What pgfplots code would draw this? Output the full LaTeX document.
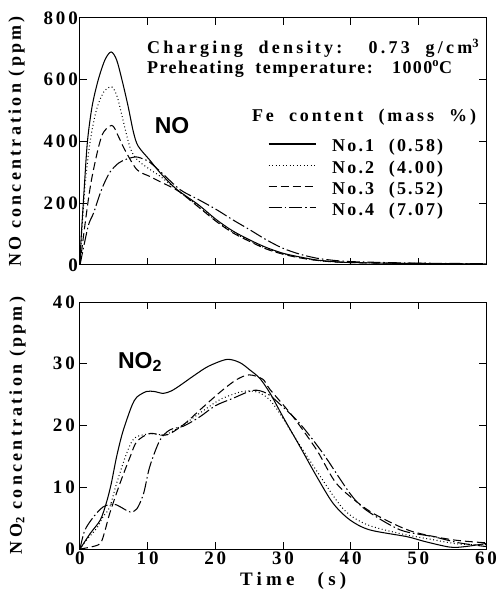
\documentclass[border=0pt]{standalone}
\usepackage{fontspec}
\setmainfont{Liberation Serif}
\newfontfamily\tickspaced{Liberation Serif}[LetterSpace=15]
\newfontfamily\labspaced{Liberation Serif}[LetterSpace=18]
\newfontfamily\timespaced{Liberation Serif}[LetterSpace=22]
\newfontfamily\chgspaced{Liberation Serif}[LetterSpace=18]
\newfontfamily\prespaced{Liberation Serif}[LetterSpace=8]
\newfontfamily\fespaced{Liberation Serif}[LetterSpace=16]
\newfontfamily\legspaced{Liberation Serif}[LetterSpace=12]
\newfontfamily\sans{Liberation Sans}
\usepackage{pgfplots}
\pgfplotsset{compat=1.18}

\newcommand\tickfont{\tickspaced\bfseries\fontsize{19}{19}\selectfont}
\newcommand\labfont{\labspaced\bfseries\fontsize{18}{18}\selectfont}
\newcommand\legfont{\legspaced\bfseries\fontsize{18}{21}\selectfont}
\newcommand\gasfont{\sans\bfseries\fontsize{23}{23}\selectfont}
% a line of text spread to a fixed width
\newcommand\spread[2]{\makebox[#1][s]{#2}}

\tikzset{note/.style={anchor=base west, inner sep=0pt}}

\pgfplotsset{
  panel/.style={
    scale only axis, width=406pt, height=247pt,
    xmin=0, xmax=60,
    axis line style={line width=1pt},
    tick align=inside, major tick length=7pt,
    tick style={line width=1pt, black},
    xtick={0,10,...,60},
    /pgf/number format/assume math mode=true,
    tick label style={font=\tickfont, inner sep=2pt},
    every axis plot/.append style={line width=1.05pt, black, smooth, tension=0.5},
  },
  s1/.style={solid},
  s2/.style={dash pattern=on 0.9pt off 2.6pt},
  s3/.style={dash pattern=on 8pt off 4pt},
  s4/.style={dash pattern=on 13pt off 3pt on 1.5pt off 3pt},
}

\begin{document}
\begin{tikzpicture}

% ---------- NO ----------
\begin{axis}[panel,
  at={(0pt,284pt)}, anchor=south west,
  ymin=0, ymax=800, ytick={0,200,...,800},
  xticklabels={},
  ylabel={NO concentration (ppm)},
  ylabel style={font=\labfont, at={(axis description cs:-0.156,0.5)}, anchor=center},
  legend cell align=left,
  legend image code/.code={\draw[#1] (0pt,0.35em) -- (47pt,0.35em);},
  legend style={draw=none, fill=none, inner sep=0pt, row sep=4.3pt, column sep=16pt,
    at={(axis description cs:0.463,0.511)}, anchor=north west,
    nodes={font=\legfont, inner sep=0pt, text height=13pt, text depth=4pt}},
]
\addplot[s1] coordinates {
(0,0) (0.15,80) (0.6,240) (1.1,400) (1.8,515) (2.7,600) (3.7,665) (4.6,690)
(5.4,665) (6.2,600) (7.1,515) (7.9,430) (8.6,385) (10.3,340) (12,295)
(14.3,245) (17.5,195) (20.2,146) (22.6,110) (25.1,81) (27.5,57) (30,38)
(32.5,26) (35,16) (37.5,11) (40,8) (45,6) (50,5) (55,4) (60,3)};
\addlegendentry{\spread{111pt}{No.1 (0.58)}}
\addplot[s2] coordinates {
(0,0) (0.3,120) (0.8,270) (1.5,400) (2.4,500) (3.5,560) (4.7,577) (5.5,545)
(6.1,493) (7.4,380) (8.5,340) (10.3,310) (12,285) (14.5,240) (17.5,190)
(20.2,142) (22.6,106) (25.1,78) (27.5,54) (30,36) (32.5,24) (35,15)
(37.5,10) (40,8) (45,6) (50,5) (55,4) (60,3)};
\addlegendentry{\spread{111pt}{No.2 (4.00)}}
\addplot[s3] coordinates {
(0,0) (0.7,125) (1.7,276) (3.2,417) (4.7,452) (5.6,420) (6.6,374) (8.4,309)
(10.3,287) (12,268) (14.5,240) (17.5,188) (20.2,140) (22.6,104) (25.1,76)
(27.5,52) (30,35) (32.5,23) (35,15) (37.5,10) (40,8) (45,6) (50,5) (55,4) (60,3)};
\addlegendentry{\spread{111pt}{No.3 (5.52)}}
\addplot[s4] coordinates {
(0,0) (1.2,125) (2.0,168) (3.2,245) (4.4,300) (5.7,330) (6.9,343) (8.3,350)
(9.5,342) (10.3,333) (12,300) (14.8,244) (17.5,212) (20.2,179) (22.6,146)
(25.1,114) (27.5,82) (30,54) (32.5,35) (35,22) (37.5,15) (40,11) (45,8)
(50,6) (55,5) (60,4)};
\addlegendentry{\spread{111pt}{No.4 (7.07)}}

\node[note, font=\chgspaced\bfseries\fontsize{18}{21}\selectfont] at (axis cs:9.9,685)
  {\spread{332pt}{Charging density: 0.73 g/cm\textsuperscript{3}}};
\node[note, font=\prespaced\bfseries\fontsize{18}{21}\selectfont] at (axis cs:9.9,621)
  {\spread{305pt}{Preheating temperature: 1000\textsuperscript{o}C}};
\node[note, font=\fespaced\bfseries\fontsize{18}{21}\selectfont] at (axis cs:25.4,466)
  {\spread{224pt}{Fe content (mass \%)}};
\node[font=\gasfont, anchor=center, inner sep=0pt] at (axis cs:13.6,450) {NO};
\end{axis}

% ---------- NO2 ----------
\begin{axis}[panel,
  at={(0pt,0pt)}, anchor=south west,
  ymin=0, ymax=40, ytick={0,10,...,40},
  yticklabel style={xshift=-3pt},
  xticklabel style={yshift=-1pt},
  xlabel={\spread{106pt}{Time (s)}},
  xlabel style={font=\timespaced\bfseries\fontsize{19}{19}\selectfont,
    at={(axis description cs:0.525,-0.13)}, anchor=center},
  ylabel={NO\textsubscript{2} concentration (ppm)},
  ylabel style={font=\labfont, at={(axis description cs:-0.154,0.5)}, anchor=center},
]
\addplot[s1] coordinates {
(0,0) (1.5,2.5) (3,4.7) (3.9,7.5) (4.6,10.5) (5.4,14.9) (6.2,18.5) (6.9,20.9)
(7.7,23.3) (8.4,24.6) (9.8,25.5) (11,25.5) (12.3,25.2) (13.5,25.6) (14.8,26.5)
(17,28.2) (19,29.6) (21.7,30.7) (23.6,30.2) (25.1,29.0) (26.6,27.6) (28.1,25.2)
(30,21.4) (32.5,16.6) (35,11.7) (37.4,7.4) (39.9,4.7) (42.8,3.1) (48.3,2.0)
(51,1.2) (54.7,0.3) (57,0.4) (60,0.9)};
\addplot[s2] coordinates {
(0,0) (1,1.5) (2.5,3.4) (3.4,5.2) (4.4,6.8) (5.4,10.6) (6.9,15.5) (8.1,18.0)
(10.6,18.7) (12.6,18.5) (15.5,20.3) (17.7,22.0) (20.7,24.2) (23.6,25.4)
(25.1,25.6) (26.5,25.3) (28,24.2) (29.5,22.0) (31.5,18.5) (35,12.6) (38.9,6.5)
(42.3,4.0) (47.3,2.5) (52.2,1.5) (56,0.8) (60,0.7)};
\addplot[s3] coordinates {
(0,0) (1.5,0.3) (3,0.9) (3.7,3.0) (4.4,5.8) (5.9,10.6) (7.4,14.9) (8.4,17.4)
(10.3,18.7) (12.3,18.4) (13.5,18.8) (15.5,20.3) (17.7,22.5) (20.7,25.4)
(23.1,27.4) (25,28.2) (27,27.5) (28.1,25.8) (31.5,21.4) (35,16) (37.9,10.6)
(41.9,6.8) (45,4.8) (49.2,2.8) (55,1.5) (60,1.0)};
\addplot[s4] coordinates {
(0,0) (0.7,3.0) (2,5.2) (3.4,6.8) (4.9,7.3) (6,6.8) (7.4,6.0) (8.4,6.5)
(9.4,9.0) (10.3,13.3) (11.8,17.6) (13.3,19.3) (15.3,19.9) (17.7,21.4)
(20,23.2) (22.6,24.4) (25.6,25.7) (27.6,25.2) (29.5,23.5) (32.5,20.3)
(35.9,15.5) (39.9,9.0) (42.3,6.3) (47.3,3.1) (52.2,2.0) (56,1.0) (60,0.4)};

\node[font=\gasfont, anchor=base west, inner sep=0pt] at (axis cs:5.6,29.3)
  {NO\textsubscript{2}};
\end{axis}

\path (-80pt,-48pt) rectangle (417pt,549pt);
\end{tikzpicture}
\end{document}
